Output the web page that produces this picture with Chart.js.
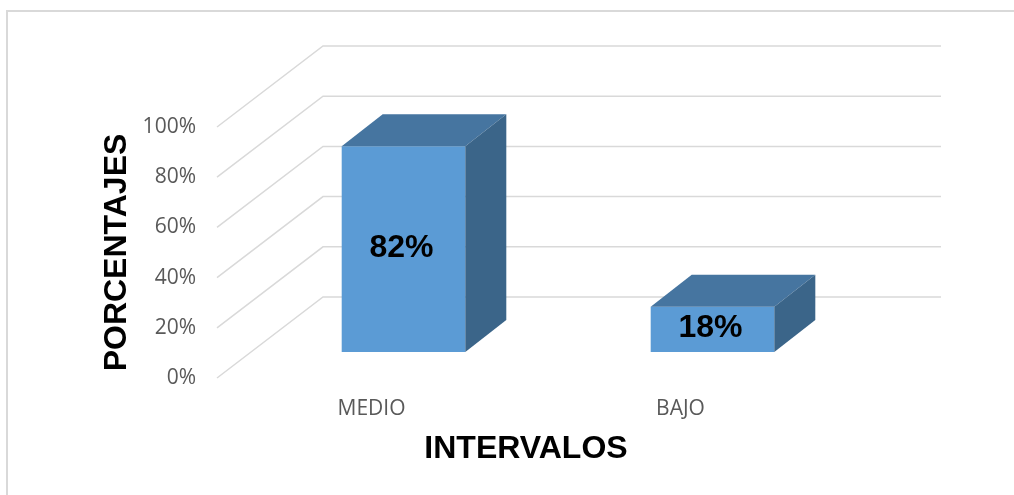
<!DOCTYPE html>
<html>
<head>
<meta charset="utf-8">
<script src="https://cdn.jsdelivr.net/npm/chart.js@4"></script>
<style>
  html, body { margin: 0; padding: 0; background: #fff; }
  #wrap { width: 1014px; height: 495px; }
</style>
</head>
<body>
<div id="wrap"><canvas id="myChart" width="1014" height="495"></canvas></div>
<script>
// datos del grafico
const categories = ['MEDIO', 'BAJO'];
const percentValues = [82, 18];
const yTickValues = [0, 20, 40, 60, 80, 100];
const yTitle = 'PORCENTAJES';
const xTitle = 'INTERVALOS';

// efecto 3D (piso / pared del fondo y cara lateral de las barras)
const wallDepth = { dx: 106, dy: -81 };
const barShift = { dx: 32, dy: -26 };
const barDepth = { dx: 41, dy: -32 };
const gridColor = '#d9d9d9';

const fake3d = {
  id: 'fake3d',
  beforeDatasetsDraw(chart) {
    const ctx = chart.ctx;
    const area = chart.chartArea;
    const y = chart.scales.y;
    ctx.save();
    // marco exterior
    ctx.strokeStyle = gridColor;
    ctx.lineWidth = 2;
    ctx.beginPath();
    ctx.moveTo(7, 495);
    ctx.lineTo(7, 11);
    ctx.lineTo(1014, 11);
    ctx.stroke();
    // lineas de la grilla
    ctx.lineWidth = 1.5;
    yTickValues.forEach(v => {
      const py = y.getPixelForValue(v);
      ctx.beginPath();
      ctx.moveTo(area.left, py);
      ctx.lineTo(area.left + wallDepth.dx, py + wallDepth.dy);
      ctx.lineTo(area.right + wallDepth.dx, py + wallDepth.dy);
      ctx.stroke();
    });
    ctx.restore();
    ctx.save();
    ctx.translate(barShift.dx, barShift.dy);
  },
  afterDatasetsDraw(chart) {
    const ctx = chart.ctx;
    const meta = chart.getDatasetMeta(0);
    meta.data.forEach((bar, i) => {
      const left = bar.x - bar.width / 2;
      const right = bar.x + bar.width / 2;
      const top = bar.y;
      const base = bar.base;
      // cara superior
      ctx.fillStyle = '#4675a0';
      ctx.beginPath();
      ctx.moveTo(left, top);
      ctx.lineTo(left + barDepth.dx, top + barDepth.dy);
      ctx.lineTo(right + barDepth.dx, top + barDepth.dy);
      ctx.lineTo(right, top);
      ctx.closePath();
      ctx.fill();
      // cara lateral
      ctx.fillStyle = '#3b6589';
      ctx.beginPath();
      ctx.moveTo(right, top);
      ctx.lineTo(right + barDepth.dx, top + barDepth.dy);
      ctx.lineTo(right + barDepth.dx, base + barDepth.dy);
      ctx.lineTo(right, base);
      ctx.closePath();
      ctx.fill();
      // etiqueta
      ctx.fillStyle = '#000';
      ctx.font = 'bold 32px "Liberation Sans", Arial, sans-serif';
      ctx.textAlign = 'center';
      ctx.textBaseline = 'middle';
      ctx.fillText(percentValues[i] + '%', bar.x - 2, (top + base) / 2 - 1);
    });
    ctx.restore();
  }
};

var ctx = document.getElementById('myChart').getContext('2d');
var chart = new Chart(ctx, {
  type: 'bar',
  data: {
    labels: categories,
    datasets: [{
      label: 'Porcentaje',
      data: percentValues,
      backgroundColor: '#5b9bd5',
      borderWidth: 0,
      barPercentage: 0.4,
      categoryPercentage: 1,
      clip: false
    }]
  },
  options: {
    responsive: false,
    animation: false,
    layout: { padding: { top: 127, right: 179, left: 0, bottom: 0 } },
    plugins: {
      legend: { display: false },
      tooltip: { enabled: false }
    },
    scales: {
      x: {
        grid: { display: false, drawTicks: false },
        border: { display: false },
        ticks: {
          padding: 18,
          color: '#595959',
          font: { family: '"Open Sans", sans-serif', size: 21 }
        },
        title: {
          display: true,
          text: xTitle,
          color: '#000',
          font: { family: '"Liberation Sans", Arial, sans-serif', size: 32, weight: 'bold' },
          padding: { top: 0, bottom: 27 }
        },
        afterFit(scale) { scale.height = 117; }
      },
      y: {
        min: 0,
        max: 100,
        grid: { display: false, drawTicks: false },
        border: { display: false },
        ticks: {
          stepSize: 20,
          padding: 21,
          color: '#595959',
          font: { family: '"Open Sans", sans-serif', size: 21 },
          callback: v => v + '%'
        },
        title: {
          display: true,
          text: yTitle,
          color: '#000',
          font: { family: '"Liberation Sans", Arial, sans-serif', size: 32, weight: 'bold' },
          padding: { top: 98, bottom: 0 }
        },
        afterFit(scale) { scale.width = 217; }
      }
    }
  },
  plugins: [fake3d]
});
</script>
</body>
</html>
